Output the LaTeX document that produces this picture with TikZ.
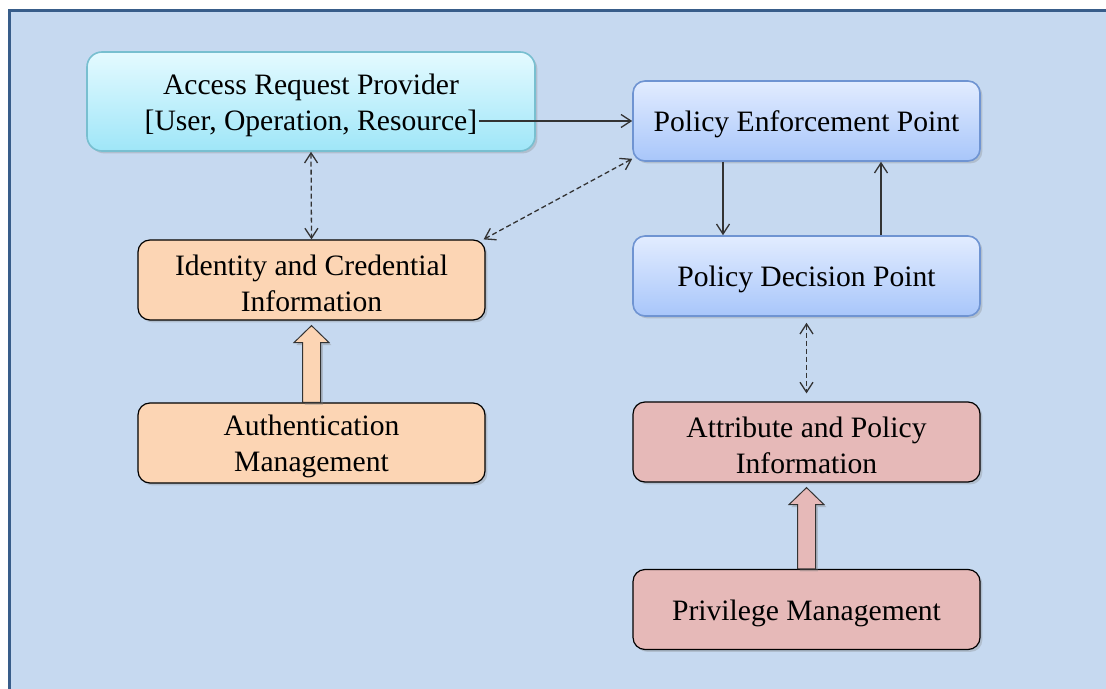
\documentclass[tikz,border=0pt]{standalone}
\usepackage{fontspec}
\setmainfont{Liberation Serif}
\usepackage{xcolor}
\usetikzlibrary{
    arrows.meta,
    calc,
    shadows,
    positioning
}
\definecolor{paneblue}{HTML}{C6D9F0}
\definecolor{paneedge}{HTML}{385D8A}
\definecolor{cyantop}{HTML}{E4FAFF}
\definecolor{cyanbot}{HTML}{9FE6F8}
\definecolor{cyanedge}{HTML}{78BFD0}
\definecolor{bluetop}{HTML}{E2ECFF}
\definecolor{bluebot}{HTML}{A8C6FA}
\definecolor{blueedge}{HTML}{6F94D2}
\definecolor{peach}{HTML}{FCD5B4}
\definecolor{rose}{HTML}{E6B9B8}
\definecolor{linkgray}{HTML}{333333}
\newcommand{\liftarrow}[3]{%
    \draw[liftstyle, fill=#3]
    ($(#1.north)+(-9,0)$) -- ($(#2.south)+(-9,22)$) -- ($(#2.south)+(-17.5,22)$)
    -- ($(#2.south)+(0,5)$) -- ($(#2.south)+(17.5,22)$) -- ($(#2.south)+(9,22)$)
    -- ($(#1.north)+(9,0)$) -- cycle;}

\begin{document}
\begin{tikzpicture}[x=0.5pt, y=-0.5pt,
    font=\fontsize{14.8pt}{18pt}\selectfont,
    box/.style={rounded corners=6pt, minimum width=173.5pt, minimum height=40pt,
        align=center, inner sep=2pt, text height=14pt,
        drop shadow={opacity=0.3, shadow xshift=1.2pt, shadow yshift=-1.2pt}},
    twoline/.style={text height=32pt},
    provider/.style={box, rounded corners=7.5pt, draw=cyanedge, line width=0.8pt,
        top color=cyantop, bottom color=cyanbot, minimum width=224pt, minimum height=49.5pt},
    enforcer/.style={box, draw=blueedge, line width=0.8pt, top color=bluetop, bottom color=bluebot},
    identbox/.style={box, draw=black, line width=0.6pt, fill=peach},
    policybox/.style={box, draw=black, line width=0.6pt, fill=rose},
    link/.style={draw=linkgray, line width=0.65pt, -{Straight Barb[length=5pt, width=6.5pt]}},
    assoc/.style={link, {Straight Barb[length=5pt, width=6.5pt]}-{Straight Barb[length=5pt, width=6.5pt]},
        dash pattern=on 2.5pt off 1.5pt},
    liftstyle/.style={draw=linkgray, line width=0.5pt,
        drop shadow={opacity=0.35, shadow xshift=1.2pt, shadow yshift=-1.2pt}}
]
    \useasboundingbox (0,0) rectangle (1106,689);
    \clip (0,0) rectangle (1106,689);
    \draw[fill=paneblue, draw=paneedge, line width=1.8pt] (9.5,10.5) rectangle (1120,700);

    % request side
    \node[provider, twoline] (arp) at (311,101.5) {Access Request Provider\\ {[User, Operation, Resource]}};
    \node[identbox, twoline] (idc) at (311.5,280) {Identity and Credential\\ Information};
    \node[identbox, twoline] (auth) at (311.5,443) {Authentication\\ Management};

    % decision side
    \node[enforcer] (pep) at (806.5,121) {Policy Enforcement Point};
    \node[enforcer] (pdp) at (806.5,276) {Policy Decision Point};
    \node[policybox, twoline] (api) at (806.5,442) {Attribute and Policy\\ Information};
    \node[policybox] (priv) at (806.5,609.5) {Privilege Management};

    \draw[link] ([xshift=-28.5pt]arp.east |- pep.west) -- (pep.west);
    \draw[link] ([xshift=-41.75pt]pep.south) -- ([xshift=-41.75pt]pdp.north);
    \draw[link] ([xshift=37.25pt]pdp.north) -- ([xshift=37.25pt]pep.south);
    \draw[assoc] (arp.south) -- (idc.north);
    \draw[assoc] ([xshift=-1pt]idc.north east) -- ([yshift=1.5pt]pep.south west);
    \draw[assoc, shorten <=3pt, shorten >=4pt] (pdp.south) -- (api.north);

    \liftarrow{auth}{idc}{peach}
    \liftarrow{priv}{api}{rose}
\end{tikzpicture}
\end{document}
